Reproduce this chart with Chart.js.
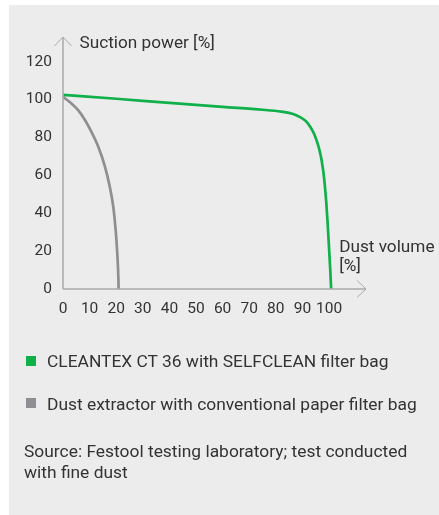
<!DOCTYPE html>
<html>
<head>
<meta charset="utf-8">
<script src="https://cdn.jsdelivr.net/npm/chart.js@4"></script>
<style>
  html, body { margin: 0; padding: 0; background: #ffffff; width: 439px; height: 515px; overflow: hidden; }
  #panel { position: absolute; left: 9px; top: 5px; width: 430px; height: 510px; background: #ececec; }
  #c { position: absolute; left: 0; top: 0; }
  .txt { position: absolute; font-family: Roboto, "Open Sans", sans-serif; font-size: 17.4px; color: #333333; white-space: nowrap; }
  .sq { position: absolute; width: 10px; height: 10px; }
</style>
</head>
<body>
<div id="panel"></div>
<canvas id="c" width="439" height="515"></canvas>
<div class="sq" style="left:26px;top:356px;background:#10b04a"></div>
<div class="txt" id="leg1" style="left:47px;top:351px;line-height:21px"></div>
<div class="sq" style="left:26px;top:398px;background:#8e8e93"></div>
<div class="txt" id="leg2" style="left:47px;top:394px;line-height:21px"></div>
<div class="txt" id="src" style="left:24px;top:441px;line-height:21px"></div>
<script>
// ---- data ----
const seriesNames = ["CLEANTEX CT 36 with SELFCLEAN filter bag", "Dust extractor with conventional paper filter bag"];
const greenX = [0, 20, 40, 60, 75, 82, 86.5, 89.3, 91.3, 93, 94.4, 95.55, 96.45, 97.2, 97.85, 98.4, 98.95, 99.4, 99.77, 100.15, 100.47, 100.8];
const greenY = [102.5, 100.4, 98.2, 96.1, 94.6, 93.6, 92.4, 90.6, 88.6, 85.5, 81.8, 77.5, 73, 68, 62, 55, 46, 36.5, 27.6, 18, 10, 0];
const grayX = [0, 3.2, 5.7, 8.3, 10.7, 13.3, 15.8, 17.6, 18.9, 19.8, 20.4, 20.8, 20.9];
const grayY = [101.4, 97.9, 94.4, 89.1, 82.9, 75, 64.5, 53.9, 43.4, 31.1, 18.8, 6.5, 0];
const xTicks = [0, 10, 20, 30, 40, 50, 60, 70, 80, 90, 100];
const yTicks = [0, 20, 40, 60, 80, 100, 120];
const yTitle = "Suction power [%]";
const xTitle = ["Dust volume", "[%]"];
const sourceText = ["Source: Festool testing laboratory; test conducted", "with fine dust"];

document.getElementById('leg1').textContent = seriesNames[0];
document.getElementById('leg2').textContent = seriesNames[1];
document.getElementById('src').innerHTML = sourceText.map(s => s.replace(/&/g,'&amp;')).join('<br>');

const toPts = (xs, ys) => xs.map((x, i) => ({ x: x, y: ys[i] }));
const FONT = 'Roboto, "Open Sans", sans-serif';
const AXIS_COLOR = '#a9a9ad';
const TEXT_COLOR = '#333333';

const axisPlugin = {
  id: 'axisArrows',
  afterDraw(chart) {
    const ctx = chart.ctx;
    const a = chart.chartArea;
    const x0 = chart.scales.x.getPixelForValue(0);
    const y0 = chart.scales.y.getPixelForValue(0);
    ctx.save();
    ctx.strokeStyle = AXIS_COLOR;
    ctx.lineWidth = 1.5;
    ctx.beginPath();
    ctx.moveTo(x0, y0); ctx.lineTo(x0, a.top);
    ctx.moveTo(x0, y0); ctx.lineTo(a.right, y0);
    ctx.stroke();
    ctx.lineWidth = 1;
    ctx.beginPath();
    ctx.moveTo(x0 - 8.5, a.top + 9); ctx.lineTo(x0, a.top); ctx.lineTo(x0 + 8.5, a.top + 9);
    ctx.moveTo(a.right - 9, y0 - 8.5); ctx.lineTo(a.right, y0); ctx.lineTo(a.right - 9, y0 + 8.5);
    ctx.stroke();
    ctx.fillStyle = TEXT_COLOR;
    ctx.font = '17.2px ' + FONT;
    ctx.textBaseline = 'middle';
    ctx.textAlign = 'left';
    ctx.fillText(yTitle, x0 + 16.5, a.top + 6.5);
    const xr = chart.scales.x.getPixelForValue(104);
    ctx.fillText(xTitle[0], xr - 0.5, y0 - 41.5);
    ctx.fillText(xTitle[1], xr - 0.5, y0 - 22.5);
    ctx.restore();
  }
};

new Chart(document.getElementById('c'), {
  type: 'scatter',
  data: {
    datasets: [
      { label: seriesNames[0], data: toPts(greenX, greenY), showLine: true, borderColor: '#10b04a', borderWidth: 2.7, pointRadius: 0, cubicInterpolationMode: 'monotone', fill: false },
      { label: seriesNames[1], data: toPts(grayX, grayY), showLine: true, borderColor: '#8e8e93', borderWidth: 2.7, pointRadius: 0, cubicInterpolationMode: 'monotone', fill: false }
    ]
  },
  options: {
    responsive: false,
    animation: false,
    events: [],
    layout: { padding: { top: 37, right: 73, bottom: 0, left: 0 } },
    plugins: { legend: { display: false }, tooltip: { enabled: false } },
    scales: {
      x: {
        type: 'linear', min: 0, max: 113.9,
        grid: { display: false, drawTicks: false },
        border: { display: false },
        afterBuildTicks(s) { s.ticks = xTicks.map(v => ({ value: v })); },
        afterFit(s) { s.height = 226; },
        ticks: { color: TEXT_COLOR, font: { family: FONT, size: 15.5 }, padding: 10.5, maxRotation: 0, autoSkip: false }
      },
      y: {
        type: 'linear', min: 0, max: 133,
        grid: { display: false, drawTicks: false },
        border: { display: false },
        afterBuildTicks(s) { s.ticks = yTicks.map(v => ({ value: v })); },
        afterFit(s) { s.width = 63; },
        ticks: { color: TEXT_COLOR, font: { family: FONT, size: 15.5 }, padding: 11, autoSkip: false }
      }
    }
  },
  plugins: [axisPlugin]
});
</script>
</body>
</html>
